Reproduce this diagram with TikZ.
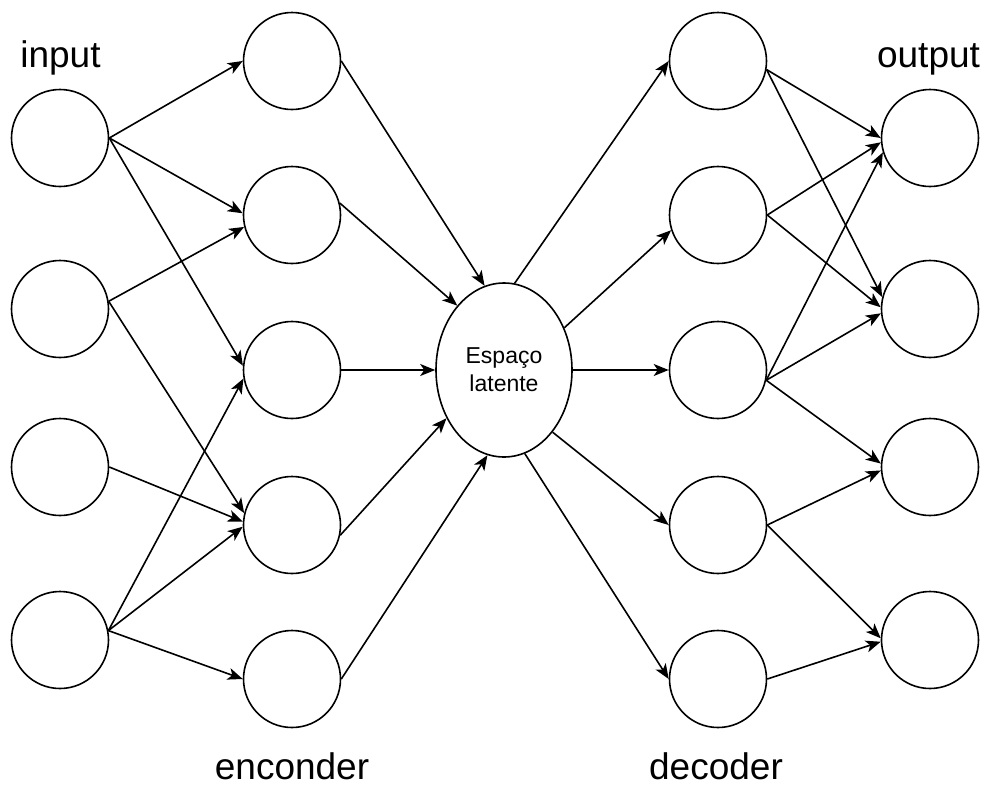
\documentclass[tikz,border=0pt]{standalone}
\usepackage{fontspec}
\setmainfont{Liberation Sans}
\usetikzlibrary{arrows.meta,shapes.geometric}

\begin{document}
\begin{tikzpicture}[x=1pt,y=-1pt,
  neuron/.style={circle,draw,line width=1.6pt,minimum size=97pt,inner sep=0pt},
  latent/.style={ellipse,draw,line width=1.6pt,minimum width=136pt,minimum height=174pt,
    inner sep=0pt,align=center,font=\fontsize{23}{28}\selectfont},
  layertitle/.style={anchor=base,inner sep=0pt,font=\fontsize{37}{44}\selectfont},
  link/.style={line width=1.6pt,-{Stealth[length=15pt,width=12pt,inset=4pt]}}
]
\useasboundingbox (0,0) rectangle (988,785);

% input layer
\node[neuron] (i1) at (60,138) {};
\node[neuron] (i2) at (60,309) {};
\node[neuron] (i3) at (60,467) {};
\node[neuron] (i4) at (60,640) {};

% encoder layer
\node[neuron] (e1) at (292,61) {};
\node[neuron] (e2) at (292,215) {};
\node[neuron] (e3) at (292,370) {};
\node[neuron] (e4) at (292,525) {};
\node[neuron] (e5) at (292,679) {};

% latent space
\node[latent] (lat) at (504,370) {Espaço\\latente};

% decoder layer
\node[neuron] (d1) at (718,61) {};
\node[neuron] (d2) at (718,215) {};
\node[neuron] (d3) at (718,370) {};
\node[neuron] (d4) at (718,525) {};
\node[neuron] (d5) at (718,679) {};

% output layer
\node[neuron] (o1) at (930,138) {};
\node[neuron] (o2) at (930,309) {};
\node[neuron] (o3) at (930,467) {};
\node[neuron] (o4) at (930,640) {};

% layer titles
\node[layertitle] (tin) at (60.5,67) {input};
\node[layertitle] (tout) at (928.5,67) {output};
\node[layertitle] (tenc) at (292,779) {enconder};
\node[layertitle] (tdec) at (716,779) {decoder};

% input -> encoder
\draw[link] (i1.east) -- (e1.west);
\draw[link] (i1.east) -- (e2.178);
\draw[link] (i1.east) -- (e3.175);
\draw[link] (i2.9) -- (e2.194);
\draw[link] (i2.9) -- (e4.166);
\draw[link] (i3.east) -- (e4.176);
\draw[link] (i4.11) -- (e3.190);
\draw[link] (i4.11) -- (e4.182);
\draw[link] (i4.11) -- (e5.west);

% encoder -> latent space
\draw[link] (e1.east) -- (lat.103);
\draw[link] (e2.14) -- (lat.126);
\draw[link] (e3.east) -- (lat.west);
\draw[link] (e4.-12) -- (lat.220);
\draw[link] (e5.east) -- (lat.259);

% latent space -> decoder
\draw[link] (lat.83) -- (d1.west);
\draw[link] (lat.35) -- (d2.198);
\draw[link] (lat.east) -- (d3.west);
\draw[link] (lat.-52) -- (d4.west);
\draw[link] (lat.-76) -- (d5.west);

% decoder -> output
\draw[link] (d1.-10) -- (o1.west);
\draw[link] (d1.-10) -- (o2.166);
\draw[link] (d2.east) -- (o1.185);
\draw[link] (d2.east) -- (o2.178);
\draw[link] (d3.-12) -- (o1.197);
\draw[link] (d3.-12) -- (o2.185);
\draw[link] (d3.-12) -- (o3.176);
\draw[link] (d4.east) -- (o3.184);
\draw[link] (d4.east) -- (o4.178);
\draw[link] (d5.east) -- (o4.182);
\end{tikzpicture}
\end{document}
